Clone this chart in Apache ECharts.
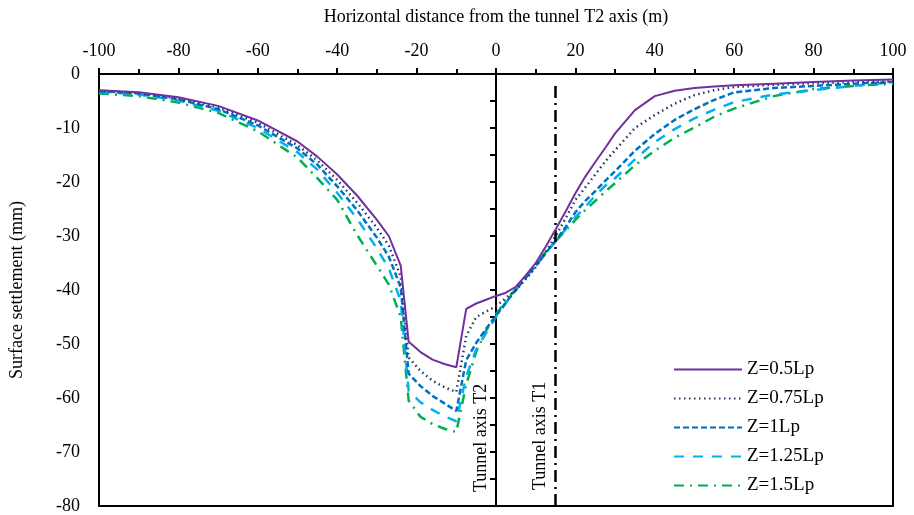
<!DOCTYPE html>
<html><head><meta charset="utf-8">
<script src="https://cdn.jsdelivr.net/npm/echarts@6/dist/echarts.min.js"></script>
<style>html,body{margin:0;padding:0;background:#fff}#c{width:914px;height:515px}</style>
</head><body><div id="c"></div>
<script>
const xs = [-100,-90,-80,-70,-60,-50,-45,-40,-35,-30,-27,-24,-22,-19,-16,-13,-10,-7.5,-5,-2.5,0,2.5,5,7.5,10,12.5,15,17.5,20,22.5,25,27.5,30,35,40,45,50,55,60,70,80,90,100];
const z050 = [-3.0,-3.4,-4.3,-5.9,-8.6,-12.5,-15.3,-18.6,-22.5,-27.0,-30.0,-35.5,-49.6,-51.5,-52.9,-53.7,-54.3,-43.5,-42.5,-41.8,-41.1,-40.5,-39.4,-37.3,-35.0,-32.0,-28.8,-25.5,-22.1,-19.0,-16.3,-13.7,-11.0,-6.7,-4.1,-3.1,-2.6,-2.3,-2.1,-1.8,-1.5,-1.2,-1.0];
const z075 = [-3.1,-3.5,-4.5,-6.2,-9.0,-13.2,-16.0,-19.6,-23.8,-28.5,-31.8,-37.5,-52.5,-55.0,-56.8,-58.0,-58.9,-48.5,-45.0,-44.0,-43.0,-41.5,-40.0,-38.0,-35.8,-33.0,-30.0,-26.8,-23.3,-21.0,-18.6,-16.2,-14.1,-10.0,-7.6,-5.5,-3.9,-3.0,-2.4,-2.0,-1.7,-1.5,-1.4];
const z100 = [-3.2,-3.6,-4.7,-6.5,-9.5,-13.8,-16.8,-20.8,-25.2,-30.3,-33.8,-39.5,-55.5,-57.8,-59.6,-61.0,-62.4,-53.0,-49.8,-47.2,-44.8,-42.3,-40.0,-37.7,-35.5,-33.2,-30.9,-28.4,-25.6,-23.5,-21.7,-19.8,-18.0,-14.2,-11.1,-8.5,-6.5,-4.8,-3.4,-2.6,-2.2,-1.8,-1.5];
const z125 = [-3.3,-3.8,-4.9,-6.8,-10.0,-14.5,-17.7,-22.0,-26.8,-32.3,-36.0,-42.0,-58.7,-60.8,-62.2,-63.4,-64.3,-56.0,-51.0,-48.0,-45.0,-42.4,-40.0,-37.7,-35.5,-33.2,-31.0,-28.8,-26.5,-24.6,-22.5,-20.7,-19.3,-15.8,-12.6,-10.2,-8.2,-6.6,-5.2,-3.8,-3.0,-2.2,-1.5];
const z150 = [-3.6,-4.1,-5.3,-7.2,-10.6,-15.5,-19.3,-23.3,-29.8,-35.5,-39.0,-45.0,-60.5,-63.5,-64.8,-65.7,-66.3,-57.5,-51.5,-47.5,-44.5,-42.0,-39.8,-37.5,-35.3,-33.0,-31.0,-29.0,-27.0,-25.2,-23.5,-21.8,-20.2,-16.9,-14.2,-11.8,-9.9,-7.9,-6.4,-4.1,-2.8,-2.2,-1.8];
const names = ['Z=0.5Lp','Z=0.75Lp','Z=1Lp','Z=1.25Lp','Z=1.5Lp'];
const xTicks = [-100,-80,-60,-40,-20,0,20,40,60,80,100];
const yTicks = [0,-10,-20,-30,-40,-50,-60,-70,-80];
const t1X = 15;

const font = '"Liberation Serif","Times New Roman",serif';
const colors = ['#7030a0','#203864','#0070c0','#00b0f0','#00b050'];
const dashes = ['solid',[1.5,3.5],[6,3],[10,9],[10,6,2,6]];
const widths = [2,2.5,2.5,2.5,2.5];
const all = [z050,z075,z100,z125,z150];

const series = all.map((ys,i)=>({
  name: names[i], type:'line', symbol:'none', smooth:false,
  data: xs.map((x,k)=>[x,ys[k]]),
  lineStyle:{color:colors[i], width:widths[i], type:dashes[i]},
  itemStyle:{color:colors[i]}, z: 5-i
}));
series.push({
  type:'line', data:[], silent:true,
  markLine:{symbol:'none', silent:true, animation:false,
    data:[
      [{coord:[t1X,-80],lineStyle:{color:'#000',width:2.5,type:[12,5,2,5]},
        label:{show:true,formatter:'Tunnel axis T1',position:'insideStartTop',distance:[16,6],color:'#000',fontFamily:font,fontSize:18}},
       {coord:[t1X,-1.5]}],
      [{coord:[0,-80],lineStyle:{color:'rgba(0,0,0,0)',width:0.1},
        label:{show:true,formatter:'Tunnel axis T2',position:'insideStartTop',distance:[14,6],color:'#000',fontFamily:font,fontSize:18}},
       {coord:[0,-1.5]}]
    ]}
});

const chart = echarts.init(document.getElementById('c'));
chart.setOption({
  animation:false,
  color: colors,
  grid:{left:99,right:21,top:74,bottom:7,show:true,borderColor:'#000',borderWidth:2,backgroundColor:'transparent'},
  xAxis:{type:'value',position:'top',min:-100,max:100,interval:20,
    name:'Horizontal distance from the tunnel T2 axis (m)',nameLocation:'middle',nameGap:48,
    nameTextStyle:{fontFamily:font,fontSize:18,color:'#000'},
    axisLine:{show:true,onZero:false,lineStyle:{color:'#000',width:2}},
    axisTick:{show:true,length:6,lineStyle:{color:'#000',width:2}},
    minorTick:{show:true,splitNumber:2,length:5,lineStyle:{color:'#000',width:2}},
    axisLabel:{fontFamily:font,fontSize:18,color:'#000',margin:14,
      formatter:v=>xTicks.includes(v)?String(v):''},
    splitLine:{show:false}},
  yAxis:[{type:'value',min:-80,max:0,interval:10,
    name:'Surface settlement (mm)',nameLocation:'middle',nameGap:73,
    nameTextStyle:{fontFamily:font,fontSize:18,color:'#000'},
    axisLine:{show:true,onZero:false,lineStyle:{color:'#000',width:2}},
    axisTick:{show:false},
    axisLabel:{fontFamily:font,fontSize:18,color:'#000',margin:19,
      formatter:v=>yTicks.includes(v)?String(v):''},
    splitLine:{show:false}},
   {type:'value',min:-80,max:0,interval:5,position:'left',
    axisLine:{show:true,onZero:true,lineStyle:{color:'#000',width:2}},
    axisTick:{show:true,length:6,lineStyle:{color:'#000',width:2}},
    axisLabel:{show:false},splitLine:{show:false}}],
  legend:{orient:'vertical',left:668,top:355,itemWidth:68,itemHeight:12,itemGap:10,
    data:names, itemStyle:{opacity:0},
    textStyle:{fontFamily:font,fontSize:19,color:'#000'}},
  series: series
});
</script></body></html>
